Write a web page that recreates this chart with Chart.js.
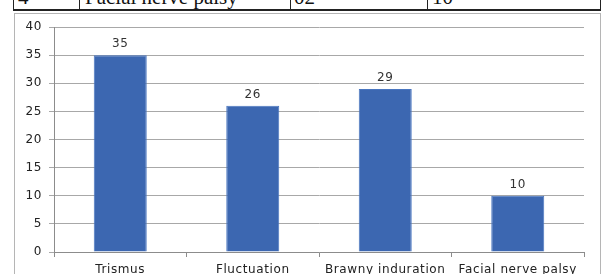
<!DOCTYPE html>
<html>
<head>
<meta charset="utf-8">
<script src="https://cdn.jsdelivr.net/npm/chart.js@4"></script>
<style>
    html, body { margin: 0; padding: 0; background: #fff; }
    #page { position: relative; width: 605px; height: 274px; overflow: hidden; }
    .tline { position: absolute; background: #222; }
    .tcell { position: absolute; top: -13px; font: 21px/21px "Liberation Serif", serif; color: #111; white-space: nowrap; }
    #box { position: absolute; left: 14px; top: 13px; width: 585px; height: 300px; border: 1px solid #b5b5b5; }
    canvas { position: absolute; left: 0; top: 0; }
</style>
</head>
<body>
<div id="page">
    <!-- bottom row of the table above the figure -->
    <div class="tline" style="left:13px; top:9px; width:588px; height:2px;"></div>
    <div class="tline" style="left:13px; top:0; width:1px; height:11px;"></div>
    <div class="tline" style="left:79px; top:0; width:1px; height:11px;"></div>
    <div class="tline" style="left:290px; top:0; width:1px; height:11px;"></div>
    <div class="tline" style="left:427px; top:0; width:1px; height:11px;"></div>
    <div class="tline" style="left:600px; top:0; width:1px; height:11px;"></div>
    <span class="tcell" style="left:18px;">4</span>
    <span class="tcell" style="left:85px;">Facial nerve palsy</span>
    <span class="tcell" style="left:294px;">02</span>
    <span class="tcell" style="left:432px;">10</span>

    <div id="box"></div>
    <canvas id="chart" width="605" height="274"></canvas>
</div>
<script>
const categories = ['Trismus', 'Fluctuation', 'Brawny induration', 'Facial nerve palsy'];
const cases = [35, 26, 29, 10];
const yTicks = [0, 5, 10, 15, 20, 25, 30, 35, 40];

const FONT = '"DejaVu Sans", Verdana, sans-serif';

// wider letter spacing like the Verdana rendering in the original
const spacing = {
    id: 'spacing',
    beforeDraw(chart) { chart.ctx.letterSpacing = '0.6px'; }
};

const valueLabels = {
    id: 'valueLabels',
    afterDatasetsDraw(chart) {
        const ctx = chart.ctx;
        const meta = chart.getDatasetMeta(0);
        ctx.save();
        ctx.font = '12px ' + FONT;
        ctx.fillStyle = '#333';
        ctx.textAlign = 'center';
        ctx.textBaseline = 'bottom';
        meta.data.forEach((bar, i) => {
            ctx.fillText(String(cases[i]), bar.x, bar.y - 5);
        });
        ctx.restore();
    }
};

new Chart(document.getElementById('chart').getContext('2d'), {
    type: 'bar',
    data: {
        labels: categories,
        datasets: [{
            data: cases,
            backgroundColor: '#3c67b1',
            borderColor: '#4a76c0',
            borderWidth: 1,
            categoryPercentage: 1,
            barPercentage: 0.4
        }]
    },
    plugins: [spacing, valueLabels],
    options: {
        responsive: false,
        animation: false,
        layout: { padding: { left: 14, right: 21, top: 27, bottom: 0 } },
        plugins: { legend: { display: false }, tooltip: { enabled: false } },
        scales: {
            x: {
                grid: { display: true, drawOnChartArea: false, offset: true, tickLength: 5, color: '#8c8c8c' },
                border: { color: '#8c8c8c' },
                ticks: { color: '#222', font: { family: FONT, size: 12 }, padding: 6, maxRotation: 0, autoSkip: false },
                afterFit(scale) { scale.height = 22; }
            },
            y: {
                min: 0,
                max: 40,
                afterBuildTicks(scale) { scale.ticks = yTicks.map(v => ({ value: v })); },
                grid: { color: '#a8a8a8', tickLength: 5 },
                border: { color: '#8c8c8c' },
                ticks: { color: '#222', font: { family: FONT, size: 12 }, padding: 7 },
                afterFit(scale) { scale.width = 40; }
            }
        }
    }
});
</script>
</body>
</html>
